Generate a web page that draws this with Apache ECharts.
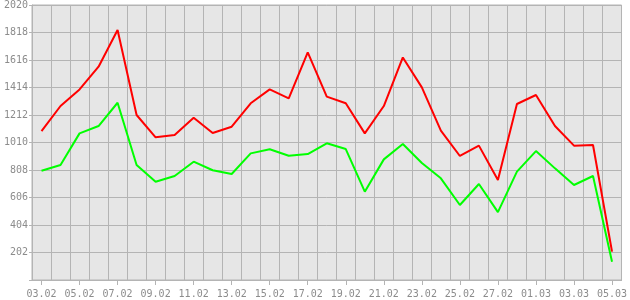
<!DOCTYPE html>
<html>
<head>
<meta charset="utf-8">
<script src="https://cdn.jsdelivr.net/npm/echarts@6/dist/echarts.min.js"></script>
<style>html,body{margin:0;padding:0;background:#fff}#c{width:630px;height:300px}</style>
</head>
<body>
<div id="c"></div>
<script>
const categories = ['03.02','04.02','05.02','06.02','07.02','08.02','09.02','10.02','11.02','12.02','13.02','14.02','15.02','16.02','17.02','18.02','19.02','20.02','21.02','22.02','23.02','24.02','25.02','26.02','27.02','28.02','01.03','02.03','03.03','04.03','05.03'];
const redValues = [1094,1278,1400,1567,1836,1212,1048,1065,1192,1080,1126,1298,1400,1334,1672,1347,1298,1077,1278,1635,1415,1097,911,987,735,1293,1359,1131,987,992,208];
const greenValues = [803,845,1077,1131,1302,845,722,764,869,806,779,930,960,913,925,1004,962,649,886,999,860,747,551,705,499,796,947,820,698,764,134];
const yMin = 0, yMax = 2020, yStep = 202;

const grey = '#b4b4b4';
const textColor = '#8c8c8c';
const font = 'DejaVu Sans Mono';

const chart = echarts.init(document.getElementById('c'), null, {renderer: 'canvas'});
chart.setOption({
  animation: false,
  backgroundColor: '#ffffff',
  grid: {left: 32, right: 4, top: 5, bottom: 20, show: true, backgroundColor: '#e6e6e6', borderColor: grey, borderWidth: 1},
  xAxis: {
    type: 'category',
    data: categories,
    boundaryGap: true,
    axisLine: {lineStyle: {color: grey, width: 1}},
    axisTick: {show: true, alignWithLabel: true, interval: 1, length: 5, lineStyle: {color: grey}},
    axisLabel: {interval: 1, color: textColor, fontFamily: font, fontSize: 10, margin: 9},
    splitLine: {show: true, interval: 0, lineStyle: {color: grey, width: 1}}
  },
  yAxis: {
    type: 'value',
    min: yMin, max: yMax, interval: yStep,
    axisLine: {show: true, lineStyle: {color: grey, width: 1}},
    axisTick: {show: true, length: 3, lineStyle: {color: grey}},
    axisLabel: {color: textColor, fontFamily: font, fontSize: 10, margin: 4,
      formatter: v => v === 0 ? '' : String(v)},
    splitLine: {show: true, lineStyle: {color: grey, width: 1}}
  },
  series: [
    {type: 'line', data: redValues, symbol: 'none', lineStyle: {color: '#ff0000', width: 2}, itemStyle: {color: '#ff0000'}, z: 3},
    {type: 'line', data: greenValues, symbol: 'none', lineStyle: {color: '#00ff00', width: 2}, itemStyle: {color: '#00ff00'}, z: 2}
  ]
});
</script>
</body>
</html>
